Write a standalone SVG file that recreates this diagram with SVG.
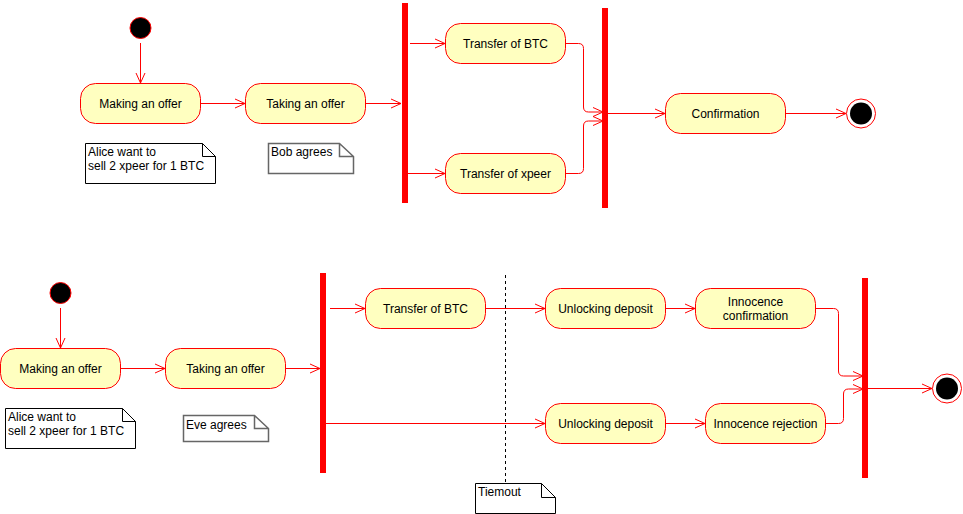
<svg xmlns="http://www.w3.org/2000/svg" width="963" height="514" viewBox="0 0 963 514">
<style>
.act{fill:#ffffc0;stroke:#ff0000;stroke-width:1}
.bar{fill:#ff0000;stroke:none}
.start{fill:#000;stroke:#ff0000;stroke-width:1}
.endo{fill:none;stroke:#ff0000;stroke-width:1}
.note{fill:#fff;stroke:#000;stroke-width:1}
.noteg{fill:#fff;stroke:#666;stroke-width:1.5}
.t{font-family:"Liberation Sans",Arial,sans-serif;font-size:12px;fill:#000}
.c{text-anchor:middle}
.e{fill:none;stroke:#ff0000;stroke-width:1;marker-end:url(#arr)}
.dash{fill:none;stroke:#000;stroke-width:1;stroke-dasharray:3,3}
</style>
<defs>
<marker id="arr" markerUnits="userSpaceOnUse" markerWidth="14" markerHeight="12" refX="11" refY="6" orient="auto">
<path d="M1,1.5 L11,6 L1,10.5" fill="none" stroke="#ff0000" stroke-width="1"/>
</marker>
</defs>

<g id="connectors">
<path class="e" d="M140.5,43 L140.5,83"/>
<path class="e" d="M200,103.5 L245,103.5"/>
<path class="e" d="M365,103.5 L401,103.5"/>
<path class="e" d="M410,43.5 L445,43.5"/>
<path class="e" d="M408,173.5 L445,173.5"/>
<path class="e" d="M565,43.5 L578.5,43.5 Q583.5,43.5 583.5,48.5 L583.5,107 Q583.5,112 588.5,112 L603,112"/>
<path class="e" d="M565,173.5 L578.5,173.5 Q583.5,173.5 583.5,168.5 L583.5,126 Q583.5,121 588.5,121 L603,121"/>
<path class="e" d="M608,113.5 L665,113.5"/>
<path class="e" d="M785,113.5 L846,113.5"/>

<path class="e" d="M60.5,308 L60.5,348"/>
<path class="e" d="M120,368.5 L165,368.5"/>
<path class="e" d="M285,368.5 L320,368.5"/>
<path class="e" d="M330,308.5 L365,308.5"/>
<path class="e" d="M326,423.5 L545,423.5"/>
<path class="e" d="M485,308.5 L545,308.5"/>
<path class="e" d="M665,308.5 L695,308.5"/>
<path class="e" d="M665,423.5 L705,423.5"/>
<path class="e" d="M815,308.5 L833.5,308.5 Q838.5,308.5 838.5,313.5 L838.5,371 Q838.5,376 843.5,376 L863,376"/>
<path class="e" d="M825,423.5 L838.5,423.5 Q843.5,423.5 843.5,418.5 L843.5,394 Q843.5,389 848.5,389 L863,389"/>
<path class="e" d="M868,388.5 L932,388.5"/>
<path class="dash" d="M505.5,275 L505.5,483"/>
</g>

<g id="start1"><circle class="start" cx="140.5" cy="28" r="10.5"/></g>
<g id="making1"><rect class="act" x="80.5" y="83.5" width="120" height="40" rx="15"/><text class="t c" x="140.5" y="107.5">Making an offer</text></g>
<g id="taking1"><rect class="act" x="245.5" y="83.5" width="120" height="40" rx="15"/><text class="t c" x="305.5" y="107.5">Taking an offer</text></g>
<g id="note-alice1"><path class="note" d="M85.5,143.5 H202.5 L215.5,156.5 V183.5 H85.5 Z M202.5,143.5 V156.5 H215.5"/><text class="t" x="88" y="156">Alice want to</text><text class="t" x="88" y="170">sell 2 xpeer for 1 BTC</text></g>
<g id="note-bob"><path class="noteg" d="M268.5,143.5 H339.5 L353.5,156.5 V173.5 H268.5 Z M339.5,143.5 V156.5 H353.5"/><text class="t" x="271" y="156">Bob agrees</text></g>
<g id="fork1"><rect class="bar" x="402" y="3" width="6" height="200"/></g>
<g id="btc1"><rect class="act" x="445.5" y="23.5" width="120" height="40" rx="15"/><text class="t c" x="505.5" y="47.5">Transfer of BTC</text></g>
<g id="xpeer1"><rect class="act" x="445.5" y="153.5" width="120" height="40" rx="15"/><text class="t c" x="505.5" y="177.5">Transfer of xpeer</text></g>
<g id="join1"><rect class="bar" x="602" y="8" width="6" height="200"/></g>
<g id="confirm1"><rect class="act" x="665.5" y="93.5" width="120" height="40" rx="15"/><text class="t c" x="725.5" y="117.5">Confirmation</text></g>
<g id="end1"><circle class="endo" cx="861" cy="113.5" r="14.5"/><circle cx="861" cy="113.5" r="11" fill="#000"/></g>

<g id="start2"><circle class="start" cx="60.5" cy="293" r="10.5"/></g>
<g id="making2"><rect class="act" x="0.5" y="348.5" width="120" height="40" rx="15"/><text class="t c" x="60.5" y="372.5">Making an offer</text></g>
<g id="taking2"><rect class="act" x="165.5" y="348.5" width="120" height="40" rx="15"/><text class="t c" x="225.5" y="372.5">Taking an offer</text></g>
<g id="note-alice2"><path class="note" d="M5.5,408.5 H122.5 L135.5,421.5 V448.5 H5.5 Z M122.5,408.5 V421.5 H135.5"/><text class="t" x="8" y="421">Alice want to</text><text class="t" x="8" y="435">sell 2 xpeer for 1 BTC</text></g>
<g id="note-eve"><path class="noteg" d="M183.5,415.5 H254.5 L268.5,428.5 V441.5 H183.5 Z M254.5,415.5 V428.5 H268.5"/><text class="t" x="186" y="429">Eve agrees</text></g>
<g id="fork2"><rect class="bar" x="320" y="273" width="6" height="200"/></g>
<g id="btc2"><rect class="act" x="365.5" y="288.5" width="120" height="40" rx="15"/><text class="t c" x="425.5" y="312.5">Transfer of BTC</text></g>
<g id="unlock1"><rect class="act" x="545.5" y="288.5" width="120" height="40" rx="15"/><text class="t c" x="605.5" y="312.5">Unlocking deposit</text></g>
<g id="unlock2"><rect class="act" x="545.5" y="403.5" width="120" height="40" rx="15"/><text class="t c" x="605.5" y="427.5">Unlocking deposit</text></g>
<g id="innoc-confirm"><rect class="act" x="695.5" y="288.5" width="120" height="40" rx="15"/><text class="t c" x="755.5" y="306">Innocence</text><text class="t c" x="755.5" y="320">confirmation</text></g>
<g id="innoc-reject"><rect class="act" x="705.5" y="403.5" width="120" height="40" rx="15"/><text class="t c" x="765.5" y="427.5">Innocence rejection</text></g>
<g id="join2"><rect class="bar" x="862" y="278" width="6" height="200"/></g>
<g id="end2"><circle class="endo" cx="947" cy="388.5" r="14.5"/><circle cx="947" cy="388.5" r="11" fill="#000"/></g>
<g id="note-timeout"><path class="note" d="M475.5,483.5 H541.5 L555.5,497.5 V513.5 H475.5 Z M541.5,483.5 V497.5 H555.5"/><text class="t" x="478" y="496">Tiemout</text></g>
</svg>
